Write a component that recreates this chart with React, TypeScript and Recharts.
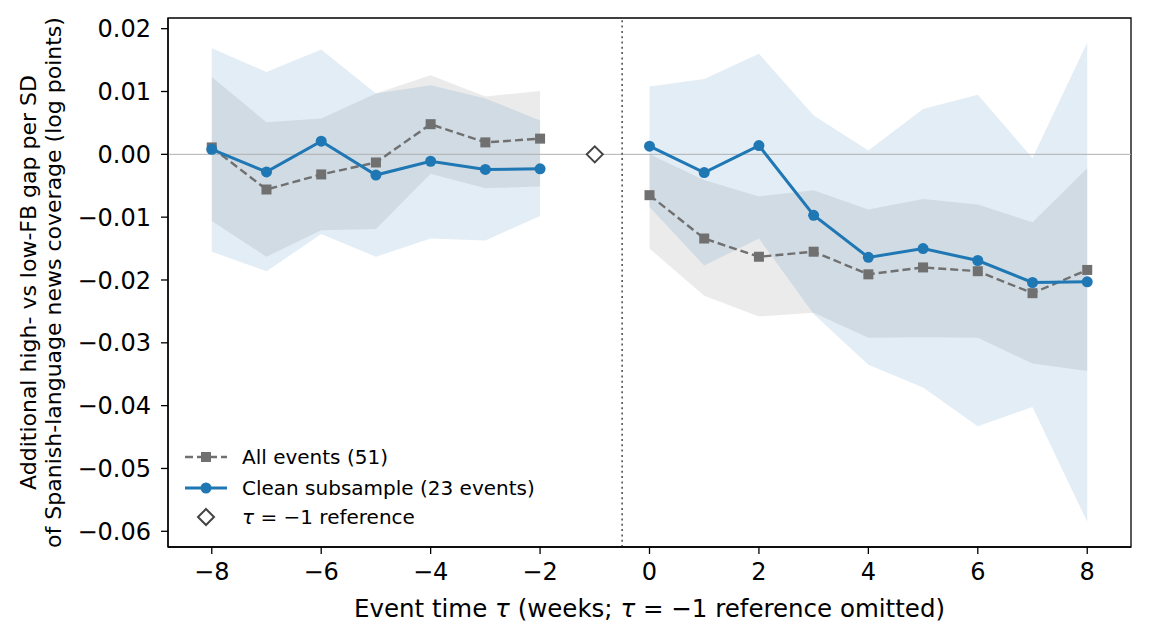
import React from 'react';
import { ComposedChart, Area, Line, XAxis, YAxis, ReferenceLine, ReferenceArea, Label } from 'recharts';

const FONT = '"DejaVu Sans", "Liberation Sans", sans-serif';
const BLUE = '#1f77b4';
const GREY = '#707070';

// event time in weeks; -1 is the omitted reference week
const TAU = [-8, -7, -6, -5, -4, -3, -2, -1, 0, 1, 2, 3, 4, 5, 6, 7, 8];

// all events (51)
const ALL_EST = [0.0011, -0.0056, -0.0032, -0.0013, 0.0048, 0.0019, 0.0025, null, -0.0065, -0.0134, -0.0163, -0.0155, -0.0191, -0.018, -0.0186, -0.0221, -0.0184];
const ALL_LO = [-0.0106, -0.0163, -0.0121, -0.0119, -0.0031, -0.0054, -0.0051, null, -0.015, -0.0225, -0.0258, -0.0252, -0.0292, -0.0291, -0.0292, -0.0333, -0.0345];
const ALL_HI = [0.0123, 0.0051, 0.0057, 0.0097, 0.0126, 0.0092, 0.0101, null, 0.0, -0.0041, -0.0067, -0.0057, -0.0088, -0.0071, -0.008, -0.0108, -0.0022];

// clean subsample (23 events)
const CLEAN_EST = [0.0008, -0.0028, 0.0021, -0.0033, -0.0011, -0.0024, -0.0023, null, 0.0013, -0.0029, 0.0014, -0.0097, -0.0164, -0.015, -0.0169, -0.0204, -0.0203];
const CLEAN_LO = [-0.0155, -0.0186, -0.0127, -0.0163, -0.0134, -0.0137, -0.0098, null, -0.0084, -0.0177, -0.0134, -0.0254, -0.0335, -0.0371, -0.0433, -0.0402, -0.0585];
const CLEAN_HI = [0.0169, 0.0131, 0.0167, 0.0097, 0.011, 0.0089, 0.0054, null, 0.0108, 0.012, 0.016, 0.0062, 0.0006, 0.0072, 0.0095, -0.0006, 0.0178];

// tau = -1 reference marker
const REF = [null, null, null, null, null, null, null, 0, null, null, null, null, null, null, null, null, null];

const X_TICKS = [-8, -6, -4, -2, 0, 2, 4, 6, 8];
const Y_TICKS = [0.02, 0.01, 0, -0.01, -0.02, -0.03, -0.04, -0.05, -0.06];
const X_DOMAIN = [-8.8, 8.8];
const Y_DOMAIN = [-0.0625, 0.0217];

const data = TAU.map((t, i) => ({
  t,
  allBand: ALL_LO[i] == null ? null : [ALL_LO[i], ALL_HI[i]],
  cleanBand: CLEAN_LO[i] == null ? null : [CLEAN_LO[i], CLEAN_HI[i]],
  all: ALL_EST[i],
  clean: CLEAN_EST[i],
  ref: REF[i],
}));

const minus = (s: string) => s.replace('-', '\u2212');
const fmtY = (v: number) => minus(v.toFixed(2));
const fmtX = (v: number) => minus(String(v));

const tickStyle = { fontSize: 24, fill: '#000', fontFamily: FONT };

function Square(props: any) {
  const { cx, cy, index } = props;
  if (cx == null || cy == null) return <g key={`sq-${index}`} />;
  return <rect key={`sq-${index}`} x={cx - 5} y={cy - 5} width={10} height={10} fill={GREY} />;
}

function Dot(props: any) {
  const { cx, cy, index } = props;
  if (cx == null || cy == null) return <g key={`dt-${index}`} />;
  return <circle key={`dt-${index}`} cx={cx} cy={cy} r={5.5} fill={BLUE} />;
}

function Diamond(props: any) {
  const { cx, cy, index } = props;
  if (cx == null || cy == null) return <g key={`dm-${index}`} />;
  const r = 8;
  return (
    <polygon
      key={`dm-${index}`}
      points={`${cx},${cy - r} ${cx + r},${cy} ${cx},${cy + r} ${cx - r},${cy}`}
      fill="#fff"
      stroke="#444"
      strokeWidth={2}
    />
  );
}

function XTitle(props: any) {
  const { viewBox } = props;
  const cx = viewBox.x + viewBox.width / 2;
  return (
    <text x={cx} y={viewBox.y + 70} textAnchor="middle" fontSize={24.5} fontFamily={FONT} fill="#000">
      Event time <tspan fontStyle="italic">τ</tspan> (weeks; <tspan fontStyle="italic">τ</tspan> = −1 reference omitted)
    </text>
  );
}

function YTitle(props: any) {
  const { viewBox } = props;
  const cy = viewBox.y + viewBox.height / 2;
  const lines = ['Additional high- vs low-FB gap per SD', 'of Spanish-language news coverage (log points)'];
  return (
    <g>
      {lines.map((s, i) => {
        const x = 28 + i * 25;
        return (
          <text
            key={s}
            x={x}
            y={cy}
            transform={`rotate(-90, ${x}, ${cy})`}
            textAnchor="middle"
            fontSize={22}
            fontFamily={FONT}
            fill="#000"
          >
            {s}
          </text>
        );
      })}
    </g>
  );
}

function LegendBox() {
  const row = { position: 'absolute' as const, left: 0, height: 24, display: 'flex', alignItems: 'center' };
  const text = { fontFamily: FONT, fontSize: 20, color: '#000', marginLeft: 14 };
  return (
    <div style={{ position: 'absolute', left: 176, top: 437, width: 400, height: 100 }}>
      <div style={{ ...row, top: 0 }}>
        <svg width={44} height={24}>
          <line x1={1} y1={12} x2={43} y2={12} stroke={GREY} strokeWidth={2.4} strokeDasharray="8 4" />
          <rect x={17} y={7} width={10} height={10} fill={GREY} />
        </svg>
        <span style={text}>All events (51)</span>
      </div>
      <div style={{ ...row, top: 31 }}>
        <svg width={44} height={24}>
          <line x1={1} y1={12} x2={43} y2={12} stroke={BLUE} strokeWidth={3} />
          <circle cx={22} cy={12} r={5.5} fill={BLUE} />
        </svg>
        <span style={text}>Clean subsample (23 events)</span>
      </div>
      <div style={{ ...row, top: 60 }}>
        <svg width={44} height={24}>
          <polygon points="22,4 30,12 22,20 14,12" fill="#fff" stroke="#444" strokeWidth={2} />
        </svg>
        <span style={text}>
          <i>τ</i> = −1 reference
        </span>
      </div>
    </div>
  );
}

export default function App() {
  return (
    <div style={{ position: 'relative', width: 1141, height: 634 }}>
      <ComposedChart
        width={1141}
        height={634}
        data={data}
        margin={{ top: 10, right: 18, left: 0, bottom: 0 }}
      >
        <XAxis
          dataKey="t"
          type="number"
          domain={X_DOMAIN}
          ticks={X_TICKS}
          tickFormatter={fmtX}
          tick={tickStyle}
          tickSize={7}
          tickMargin={9}
          height={95}
          axisLine={{ stroke: '#000', strokeWidth: 1.3 }}
          tickLine={{ stroke: '#000', strokeWidth: 1.3 }}
          allowDataOverflow
        >
          <Label content={XTitle} />
        </XAxis>
        <YAxis
          type="number"
          domain={Y_DOMAIN}
          ticks={Y_TICKS}
          tickFormatter={fmtY}
          tick={tickStyle}
          tickSize={7}
          tickMargin={10}
          width={160}
          axisLine={{ stroke: '#000', strokeWidth: 1.3 }}
          tickLine={{ stroke: '#000', strokeWidth: 1.3 }}
          allowDataOverflow
        >
          <Label content={YTitle} />
        </YAxis>
        <Area
          dataKey="allBand"
          type="linear"
          stroke="none"
          fill="#808080"
          fillOpacity={0.16}
          isAnimationActive={false}
          activeDot={false}
        />
        <Area
          dataKey="cleanBand"
          type="linear"
          stroke="none"
          fill={BLUE}
          fillOpacity={0.13}
          isAnimationActive={false}
          activeDot={false}
        />
        <ReferenceLine y={0} stroke="#b0b0b0" strokeWidth={1} />
        <ReferenceLine x={-0.5} stroke="#555" strokeWidth={1.6} strokeDasharray="2 3.3" />
        <Line
          dataKey="all"
          type="linear"
          stroke={GREY}
          strokeWidth={2.4}
          strokeDasharray="8 4"
          dot={Square}
          activeDot={false}
          isAnimationActive={false}
        />
        <Line
          dataKey="clean"
          type="linear"
          stroke={BLUE}
          strokeWidth={3}
          dot={Dot}
          activeDot={false}
          isAnimationActive={false}
        />
        <Line
          dataKey="ref"
          type="linear"
          stroke="none"
          dot={Diamond}
          activeDot={false}
          isAnimationActive={false}
        />
        <ReferenceArea
          x1={X_DOMAIN[0]}
          x2={X_DOMAIN[1]}
          y1={Y_DOMAIN[0]}
          y2={Y_DOMAIN[1]}
          fill="none"
          stroke="#000"
          strokeWidth={1.3}
          fillOpacity={0}
        />
      </ComposedChart>
      <LegendBox />
    </div>
  );
}
